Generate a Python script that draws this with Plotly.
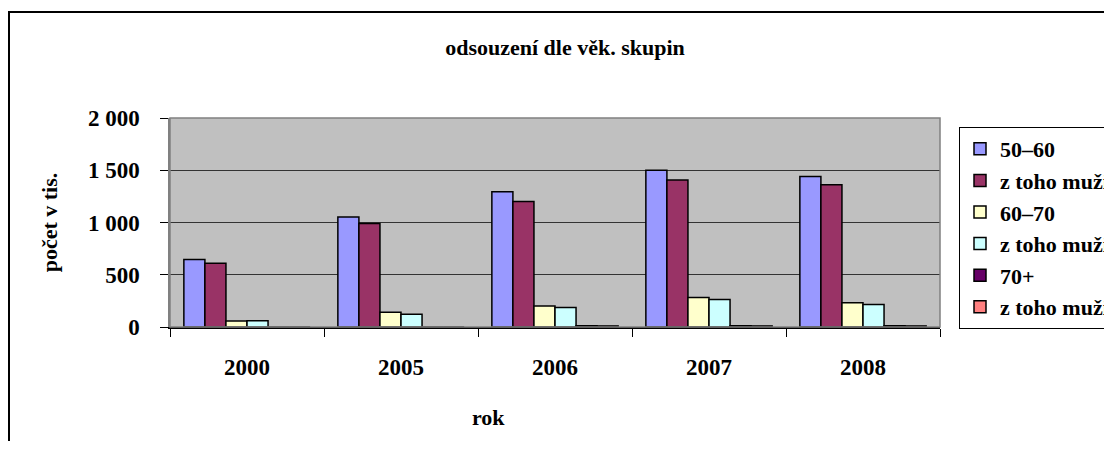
import plotly.graph_objects as go

years = ["2000", "2005", "2006", "2007", "2008"]
series_names = ["50–60", "z toho muži", "60–70", "z toho muži", "70+", "z toho muži"]
v_50_60 = [647, 1052, 1295, 1500, 1439]
v_50_60_m = [609, 991, 1201, 1407, 1362]
v_60_70 = [58, 140, 202, 283, 231]
v_60_70_m = [60, 121, 187, 264, 216]
v_70 = [0, 0, 12, 12, 12]
v_70_m = [0, 0, 10, 10, 10]
colors = ["#9999FF", "#993366", "#FFFFCC", "#CCFFFF", "#660066", "#FF8080"]

values = [v_50_60, v_50_60_m, v_60_70, v_60_70_m, v_70, v_70_m]

FONT = "Liberation Serif, Times New Roman, serif"
OFF = 8  # browser body margin
W, H = 1112 - 2 * OFF, 449 - 2 * OFF
# plot area in page px, converted to figure px
L, R, T, B = 170 - OFF, 940 - OFF, 118 - OFF, 327 - OFF

def px_x(p):
    return (p - OFF - L) / (R - L)

def px_y(p):
    return (B - (p - OFF)) / (B - T)

fig = go.Figure()
for name, vals, col in zip(series_names, values, colors):
    fig.add_trace(go.Bar(
        x=years, y=vals, name=name,
        marker=dict(color=col, line=dict(color="black", width=1.5)),
    ))

fig.update_layout(
    width=W, height=H,
    margin=dict(l=L, r=W - R, t=T, b=H - B, autoexpand=False),
    paper_bgcolor="white",
    plot_bgcolor="#C0C0C0",
    barmode="group",
    bargap=0.18,
    bargroupgap=0,
    separators=". ",
    font=dict(family=FONT, color="black", size=20, weight="bold"),
    title=dict(
        text="odsouzení dle věk. skupin",
        x=(565 - OFF) / W, xanchor="center",
        y=1 - (47 - OFF) / H, yanchor="middle",
        font=dict(family=FONT, size=22, weight="bold", color="black"),
    ),
    legend=dict(
        x=px_x(959), y=px_y(127), xanchor="left", yanchor="top",
        bgcolor="white", bordercolor="black", borderwidth=1,
        font=dict(family=FONT, size=22, weight="bold", color="black"),
        tracegroupgap=0,
    ),
    showlegend=True,
    annotations=[dict(
        text="rok", xref="paper", yref="paper",
        x=px_x(488), y=px_y(417), xanchor="center", yanchor="middle",
        showarrow=False, font=dict(family=FONT, size=22, weight="bold", color="black"),
    )],
)

fig.update_xaxes(
    type="category",
    showgrid=False,
    showline=True, linecolor="black", linewidth=1.5,
    ticks="outside", tickson="boundaries", ticklen=8, tickcolor="black",
    tickfont=dict(family=FONT, size=23, weight="bold"),
    ticklabelstandoff=19,
)
fig.update_yaxes(
    range=[0, 2000], dtick=500, tickformat=",d",
    showgrid=True, gridcolor="#333333", gridwidth=1,
    showline=True, linecolor="#808080", linewidth=1.5,
    ticks="outside", ticklen=8, tickcolor="black",
    tickfont=dict(family=FONT, size=23, weight="bold"),
    ticklabelstandoff=16,
    zeroline=False,
    title=dict(text="počet v tis.", font=dict(family=FONT, size=22, weight="bold"), standoff=24),
)

# plot-area border (grey)
fig.add_shape(type="rect", xref="paper", yref="paper", x0=0, x1=1, y0=0, y1=1,
              line=dict(color="#808080", width=1.5), layer="above")
# outer chart frame (extends past the right/bottom edges of the view)
fig.add_shape(type="rect", xref="paper", yref="paper",
              x0=px_x(9), x1=px_x(1140), y0=px_y(480), y1=px_y(12),
              line=dict(color="black", width=2))

fig.write_html("out.html")
